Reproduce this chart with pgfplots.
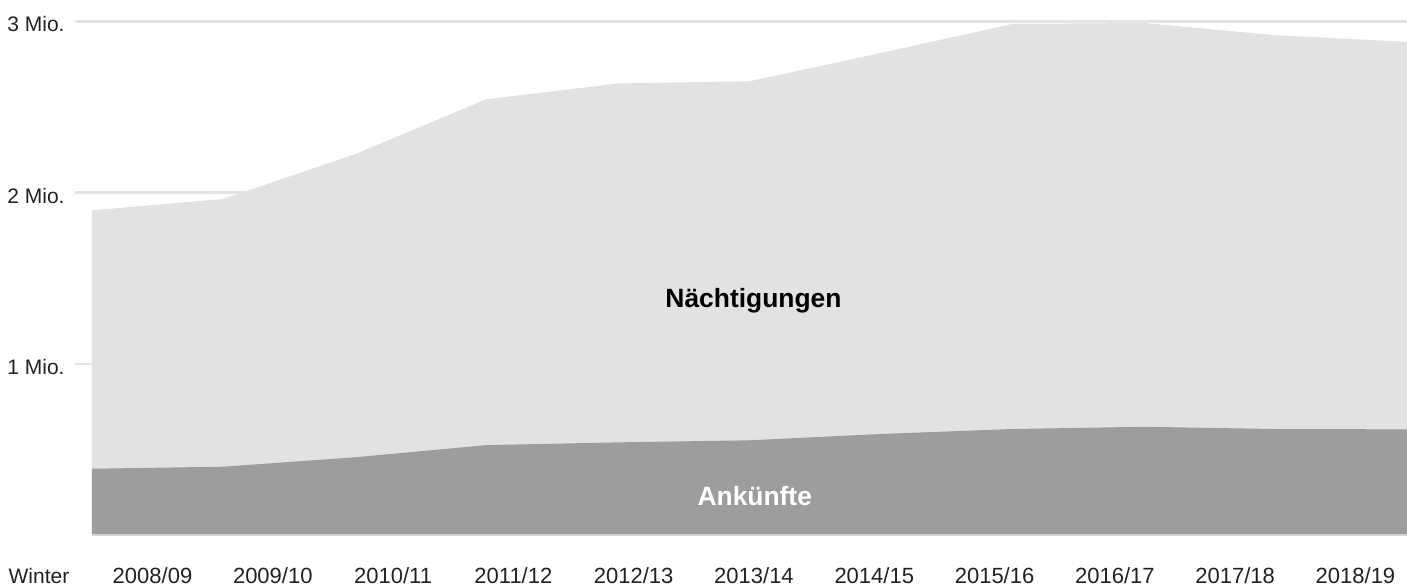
\documentclass[border=0pt]{standalone}
\usepackage{fontspec}
\setmainfont{Liberation Sans}
\usepackage{pgfplots}
\pgfplotsset{compat=1.18}
\definecolor{lightarea}{HTML}{E2E2E2}
\definecolor{darkarea}{HTML}{9C9D9C}
\definecolor{gridc}{HTML}{E4E4E4}
\definecolor{basec}{HTML}{D4D4D4}
\definecolor{txt}{HTML}{222222}
\begin{document}
\begin{tikzpicture}
\useasboundingbox (-46pt,-25pt) rectangle (657.5pt,267.5pt);
\begin{axis}[
  at={(0,0)}, anchor=south west,
  scale only axis, width=657.5pt, height=256.85pt,
  xmin=0, xmax=10, ymin=0, ymax=3,
  axis line style={draw=none},
  tick style={draw=none},
  ytick={1,2,3}, yticklabels={1 Mio.,2 Mio.,3 Mio.},
  ymajorgrids, grid style={gridc, line width=1.25pt},
  xtick={0.460,1.3748,2.2896,3.2044,4.1192,5.0340,5.9488,6.8636,7.7784,8.6932,9.6080},
  xticklabels={2008/09,2009/10,2010/11,2011/12,2012/13,2013/14,2014/15,2015/16,2016/17,2017/18,2018/19},
  ticklabel style={text=txt},
  xticklabel style={anchor=base, yshift=-24pt, inner sep=0pt, font=\fontsize{11}{13}\selectfont},
  yticklabel style={anchor=east, inner sep=0pt, xshift=-13.5pt, yshift=-1.5pt, font=\fontsize{10.5}{12}\selectfont},
  clip=false,
]
\addplot[draw=none, fill=lightarea] coordinates {(0,1.896) (1,1.963) (2,2.224) (3,2.545) (4,2.637) (5,2.650) (6,2.815) (7,2.985) (8,2.99) (9,2.919) (10,2.880)} \closedcycle;
\addplot[draw=none, fill=darkarea] coordinates {(0,0.387) (1,0.399) (2,0.454) (3,0.525) (4,0.541) (5,0.553) (6,0.590) (7,0.619) (8,0.632) (9,0.619) (10,0.617)} \closedcycle;
\draw[basec, line width=0.6pt] (axis cs:0,0) -- (axis cs:10,0);
\draw[gridc, line width=1.25pt] (axis cs:0,1) -- ++(-8.5pt,0);
\draw[gridc, line width=1.25pt] (axis cs:0,2) -- ++(-8.5pt,0);
\draw[gridc, line width=1.25pt] (axis cs:0,3) -- ++(-8.5pt,0);
\node[anchor=base, font=\bfseries\fontsize{13.2}{15}\selectfont] at (axis cs:5.03,1.326) {Nächtigungen};
\node[anchor=base, text=white, font=\bfseries\fontsize{13.2}{15}\selectfont] at (axis cs:5.04,0.175) {Ankünfte};
\node[anchor=base, yshift=-24pt, inner sep=0pt, text=txt, font=\fontsize{10.5}{12}\selectfont] at (axis cs:-0.403,0) {Winter};
\end{axis}
\end{tikzpicture}
\end{document}
